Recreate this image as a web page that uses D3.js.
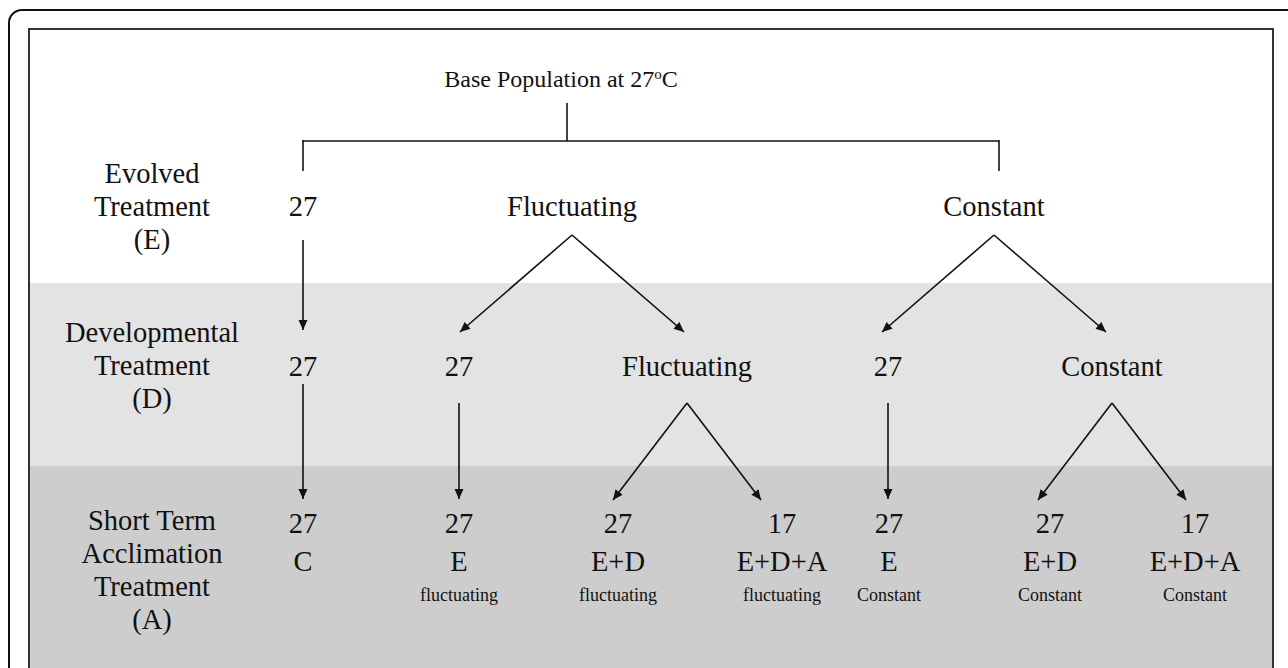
<!DOCTYPE html>
<html><head><meta charset="utf-8">
<script src="https://cdn.jsdelivr.net/npm/d3@7"></script>
<style>html,body{margin:0;padding:0;background:#fff;}svg{display:block;}</style>
</head><body>
<script>
// ---- data ----
const title = ["Base Population at 27", "o", "C"];
const rowLabels = [
  ["Evolved", "Treatment", "(E)"],
  ["Developmental", "Treatment", "(D)"],
  ["Short Term", "Acclimation", "Treatment", "(A)"]
];
const evolvedNodes = [
  {id: "E27", label: "27"},
  {id: "Efl", label: "Fluctuating"},
  {id: "Eco", label: "Constant"}
];
const devNodes = [
  {id: "D27a", label: "27", parent: "E27"},
  {id: "D27b", label: "27", parent: "Efl"},
  {id: "Dfl", label: "Fluctuating", parent: "Efl"},
  {id: "D27c", label: "27", parent: "Eco"},
  {id: "Dco", label: "Constant", parent: "Eco"}
];
const accTemps = ["27", "27", "27", "17", "27", "27", "17"];
const accCodes = ["C", "E", "E+D", "E+D+A", "E", "E+D", "E+D+A"];
const accRegime = ["", "fluctuating", "fluctuating", "fluctuating", "Constant", "Constant", "Constant"];
const accParents = ["D27a", "D27b", "Dfl", "Dfl", "D27c", "Dco", "Dco"];

// ---- layout (positions kept separate from data) ----
const W = 1288, H = 668;
const svg = d3.select("body").append("svg").attr("width", W).attr("height", H);
const FONT = "'Liberation Serif','Times New Roman',serif";
const ink = "#111";
const BIG = 28.5;

const nodeX = d3.scaleOrdinal()
  .domain(["E27","Efl","Eco","D27a","D27b","Dfl","D27c","Dco","A0","A1","A2","A3","A4","A5","A6"])
  .range([303, 572, 994, 303, 459, 687, 888, 1112, 303, 459, 618, 782, 889, 1050, 1195]);
const bandY = d3.scaleOrdinal().domain(["white","light","dark"]).range([29, 283, 466]);
const bandFill = {white: "#ffffff", light: "#e3e3e3", dark: "#cdcdcd"};
const labelBaseline = [183, 342, 530];
const lineGap = 33;
const nodeBaseline = [216, 376];
const accLineY = [533, 571, 601];

// outer rounded frame
svg.append("rect").attr("x", 9).attr("y", 10).attr("width", W + 20).attr("height", H + 20)
  .attr("rx", 13).attr("fill", "#fff").attr("stroke", "#111").attr("stroke-width", 2);

// bands inside inner frame
const bandKeys = ["white","light","dark"];
const bandEnd = {white: 283, light: 466, dark: H + 20};
svg.selectAll("rect.band").data(bandKeys).join("rect").attr("class","band")
  .attr("x", 29).attr("width", 1244)
  .attr("y", d => bandY(d)).attr("height", d => bandEnd[d] - bandY(d))
  .attr("fill", d => bandFill[d]);
svg.append("rect").attr("x", 29).attr("y", 29).attr("width", 1244).attr("height", H)
  .attr("fill", "none").attr("stroke", "#333").attr("stroke-width", 2);

// arrow marker
svg.append("defs").append("marker").attr("id", "ah")
  .attr("viewBox", "0 0 10 10").attr("refX", 10).attr("refY", 5)
  .attr("markerWidth", 14).attr("markerHeight", 10).attr("markerUnits", "userSpaceOnUse")
  .attr("orient", "auto")
  .append("path").attr("d", "M0,0.5 L10,5 L0,9.5 Z").attr("fill", ink);

// title
const t = svg.append("text").attr("x", 561).attr("y", 87).attr("text-anchor", "middle")
  .attr("font-family", FONT).attr("font-size", 24).attr("fill", ink);
t.append("tspan").text(title[0]);
t.append("tspan").attr("font-size", 15).attr("dy", -8).text(title[1]);
t.append("tspan").attr("dy", 8).text(title[2]);

// bracket from base population to evolved treatments
const stemX = 567, barY = 141;
const ln = (x1, y1, x2, y2, arrow) => svg.append("line")
  .attr("x1", x1).attr("y1", y1).attr("x2", x2).attr("y2", y2)
  .attr("stroke", ink).attr("stroke-width", 1.6)
  .attr("marker-end", arrow ? "url(#ah)" : null);
ln(stemX, 103, stemX, barY);
ln(nodeX("E27"), barY, nodeX("Eco") + 5, barY);
ln(nodeX("E27"), barY - 1, nodeX("E27"), 171);
ln(nodeX("Eco") + 5, barY - 1, nodeX("Eco") + 5, 171);

// left row labels
rowLabels.forEach((lines, r) => {
  svg.append("g").selectAll("text").data(lines).join("text")
    .attr("x", 152).attr("y", (d, i) => labelBaseline[r] + i * lineGap)
    .attr("text-anchor", "middle").attr("font-family", FONT).attr("font-size", BIG)
    .attr("fill", ink).text(d => d);
});

// evolved nodes
svg.append("g").selectAll("text").data(evolvedNodes).join("text")
  .attr("x", d => nodeX(d.id)).attr("y", nodeBaseline[0]).attr("text-anchor", "middle")
  .attr("font-family", FONT).attr("font-size", BIG).attr("fill", ink).text(d => d.label);

// developmental nodes
svg.append("g").selectAll("text").data(devNodes).join("text")
  .attr("x", d => nodeX(d.id)).attr("y", nodeBaseline[1]).attr("text-anchor", "middle")
  .attr("font-family", FONT).attr("font-size", BIG).attr("fill", ink).text(d => d.label);

// arrows: evolved -> developmental
devNodes.forEach(d => {
  const px = nodeX(d.parent), cx = nodeX(d.id);
  if (d.parent === "E27") ln(px, 240, cx, 330, true);
  else {
    const dir = Math.sign(cx - px);
    ln(px, 235, px + dir * 112, 332, true);
  }
});

// arrows: developmental -> acclimation
accParents.forEach((p, i) => {
  const px = nodeX(p), cx = nodeX("A" + i);
  if (p === "Dfl" || p === "Dco") {
    const dir = Math.sign(cx - px);
    ln(px, 403, px + dir * 74, 500, true);
  } else {
    ln(px, p === "D27a" ? 384 : 403, px, 499, true);
  }
});

// acclimation leaves
const accG = svg.append("g").selectAll("g").data(accTemps.map((v, i) => ({i, temp: v, code: accCodes[i], reg: accRegime[i]})))
  .join("g");
accG.append("text").attr("x", d => nodeX("A" + d.i)).attr("y", accLineY[0])
  .attr("text-anchor", "middle").attr("font-family", FONT).attr("font-size", BIG).attr("fill", ink).text(d => d.temp);
accG.append("text").attr("x", d => nodeX("A" + d.i)).attr("y", accLineY[1])
  .attr("text-anchor", "middle").attr("font-family", FONT).attr("font-size", BIG).attr("fill", ink).text(d => d.code);
accG.append("text").attr("x", d => nodeX("A" + d.i)).attr("y", accLineY[2])
  .attr("text-anchor", "middle").attr("font-family", FONT).attr("font-size", 18).attr("fill", ink).text(d => d.reg);
</script>
</body></html>
